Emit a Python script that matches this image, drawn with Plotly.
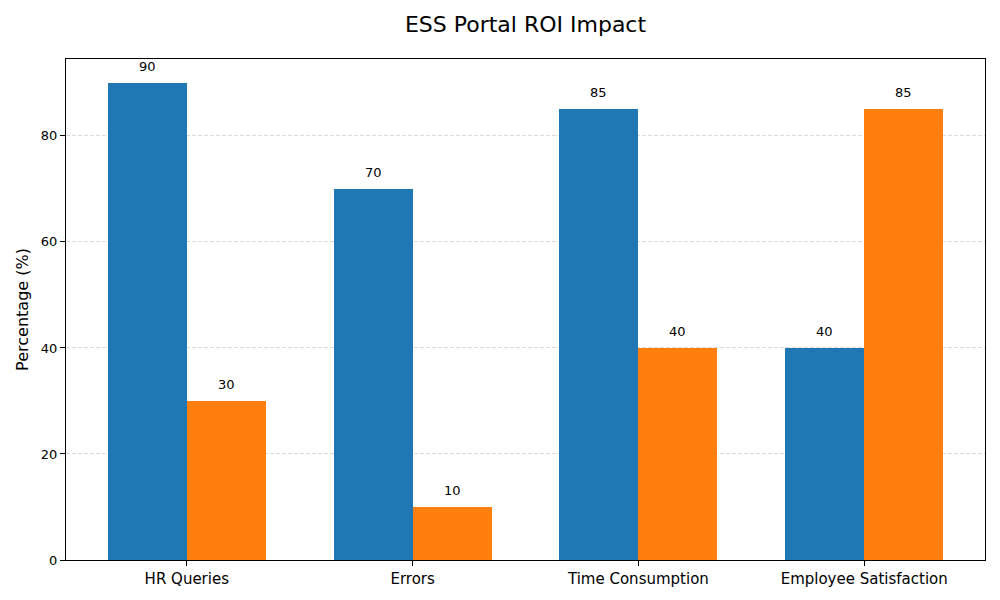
import plotly.graph_objects as go

categories = ["HR Queries", "Errors", "Time Consumption", "Employee Satisfaction"]
before_values = [90, 70, 85, 40]
after_values = [30, 10, 40, 85]
series_names = ["Before ESS", "After ESS"]
colors = ["#1f77b4", "#ff7f0e"]
y_ticks = [0, 20, 40, 60, 80]

width = 0.35
idx = list(range(len(categories)))
fig = go.Figure()
annotations = []
for k, (vals, name, col) in enumerate(zip([before_values, after_values], series_names, colors)):
    off = (k - 0.5) * width
    xs = [i + off for i in idx]
    fig.add_trace(go.Bar(x=xs, y=vals, width=width, name=name, marker=dict(color=col, line=dict(width=0)),
                         showlegend=False))
    for x, v in zip(xs, vals):
        annotations.append(dict(x=x, y=v, text=str(v), showarrow=False, yanchor="bottom", yshift=7,
                                font=dict(family="DejaVu Sans", size=13, color="black")))

fig.update_layout(
    width=1000, height=600,
    margin=dict(l=66, r=15, t=59, b=40),
    paper_bgcolor="white", plot_bgcolor="white",
    font=dict(family="DejaVu Sans", color="black"),
    title=dict(text="ESS Portal ROI Impact", x=0.5, xref="paper", xanchor="center", y=1 - 24 / 600,
               yanchor="middle", font=dict(size=22, color="black")),
    annotations=annotations,
    bargap=0,
)
fig.update_xaxes(range=[-0.535, 3.535], tickvals=idx, ticktext=categories, showline=True, linecolor="black",
                 linewidth=1, mirror=True, ticks="outside", ticklen=5, tickcolor="black", showgrid=False,
                 zeroline=False, tickfont=dict(size=15))
fig.update_yaxes(range=[0, 94.5], tickvals=y_ticks, showline=True, linecolor="black", linewidth=1, mirror=True,
                 ticks="outside", ticklen=5, tickcolor="black", showgrid=True, gridcolor="rgba(176,176,176,0.45)",
                 griddash="4px,2px", gridwidth=1, zeroline=False, tickfont=dict(size=13),
                 title=dict(text="Percentage (%)", font=dict(size=16), standoff=8))
fig.write_html("out.html")
